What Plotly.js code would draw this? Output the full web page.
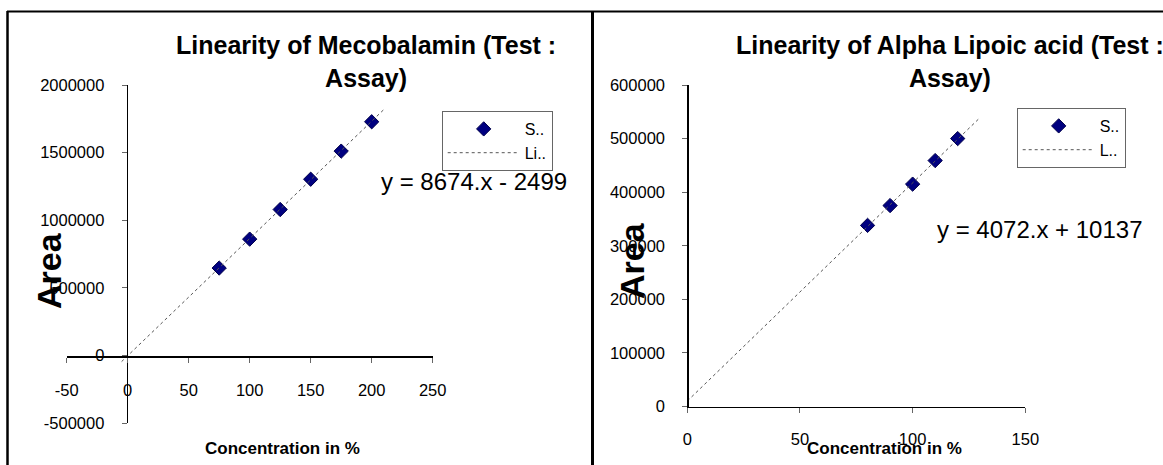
<!DOCTYPE html>
<html><head><meta charset="utf-8">
<script src="https://cdn.plot.ly/plotly-3.0.1.min.js"></script>
<style>html,body{margin:0;padding:0;background:#fff;} #chart{width:1163px;height:465px;}</style>
</head><body><div id="chart"></div>
<script>
// ---------- Mecobalamin (left chart) ----------
const mecoTitle = 'Linearity of Mecobalamin (Test :<br>Assay)';
const mecoConc = [75, 100, 125, 150, 175, 200];
const mecoArea = [646000, 860000, 1079000, 1303000, 1511000, 1728000];
const mecoTrendConc = [-5, 210];
const mecoTrendArea = [-45900, 1819000];
const mecoEquation = 'y = 8674.x - 2499';
const mecoXTickVals = [-50, 0, 50, 100, 150, 200, 250];
const mecoXTickText = ['-50', '0', '50', '100', '150', '200', '250'];
const mecoYTickVals = [-500000, 0, 500000, 1000000, 1500000, 2000000];
const mecoYTickText = ['-500000', '0', '500000', '1000000', '1500000', '2000000'];
const mecoLegendNames = ['S..', 'Li..'];

// ---------- Alpha Lipoic acid (right chart) ----------
const alaTitle = 'Linearity of Alpha Lipoic acid (Test :<br>Assay)';
const alaConc = [80, 90, 100, 110, 120];
const alaArea = [338000, 375000, 415000, 459000, 500000];
const alaTrendConc = [0, 130];
const alaTrendArea = [10137, 539500];
const alaEquation = 'y = 4072.x + 10137';
const alaXTickVals = [0, 50, 100, 150];
const alaXTickText = ['0', '50', '100', '150'];
const alaYTickVals = [0, 100000, 200000, 300000, 400000, 500000, 600000];
const alaYTickText = ['0', '100000', '200000', '300000', '400000', '500000', '600000'];
const alaLegendNames = ['S..', 'L..'];

const xTitle = 'Concentration in %';
const yTitle = 'Area';

// ---------- layout helpers (pixel -> paper) ----------
const W = 1163, H = 465;
const px = v => v / W;
const py = v => 1 - v / H;
const FONT = 'Arial, "Liberation Sans", sans-serif';
const NAVY = '#000080';

const markerStyle = {symbol: 'diamond', size: 11, color: NAVY, line: {color: '#00004a', width: 1}};
const trendStyle = {color: '#555', width: 1, dash: 'dot'};

const traces = [
  {x: mecoConc, y: mecoArea, type: 'scatter', mode: 'markers', name: mecoLegendNames[0],
   xaxis: 'x', yaxis: 'y', legend: 'legend', marker: markerStyle, hoverinfo: 'x+y'},
  {x: mecoTrendConc, y: mecoTrendArea, type: 'scatter', mode: 'lines', name: mecoLegendNames[1],
   xaxis: 'x', yaxis: 'y', legend: 'legend', line: trendStyle, hoverinfo: 'skip'},
  {x: alaConc, y: alaArea, type: 'scatter', mode: 'markers', name: alaLegendNames[0],
   xaxis: 'x2', yaxis: 'y2', legend: 'legend2', marker: markerStyle, hoverinfo: 'x+y'},
  {x: alaTrendConc, y: alaTrendArea, type: 'scatter', mode: 'lines', name: alaLegendNames[1],
   xaxis: 'x2', yaxis: 'y2', legend: 'legend2', line: trendStyle, hoverinfo: 'skip'}
];

function axisBase(extra) {
  return Object.assign({
    showgrid: false, zeroline: false, showline: true, linecolor: '#000', linewidth: 1.5,
    ticks: 'outside', ticklen: 5, tickwidth: 1, tickcolor: '#666',
    tickfont: {size: 16.5, color: '#000', family: FONT},
    tickmode: 'array', autorange: false, fixedrange: true, anchor: 'free'
  }, extra);
}

const ann = (text, x, y, size, bold, extra) => Object.assign({
  text: text, xref: 'paper', yref: 'paper', x: px(x), y: py(y),
  xanchor: 'center', yanchor: 'middle', showarrow: false,
  font: {family: FONT, size: size, color: '#000', weight: bold ? 'bold' : 'normal'}
}, extra || {});

const legendBase = {
  xanchor: 'left', yanchor: 'top', bgcolor: '#fff', bordercolor: '#666', borderwidth: 1,
  font: {family: FONT, size: 16, color: '#000'}, itemwidth: 72, tracegroupgap: 0,
  itemclick: false, itemdoubleclick: false
};

const layout = {
  width: W, height: H,
  margin: {l: 0, r: 0, t: 0, b: 0, pad: 0},
  paper_bgcolor: '#fff', plot_bgcolor: 'rgba(0,0,0,0)',
  font: {family: FONT, color: '#000', size: 16},
  showlegend: true,
  xaxis: axisBase({domain: [px(66.7), px(432.7)], range: [-50, 250],
    tickvals: mecoXTickVals, ticktext: mecoXTickText, position: py(356), ticklabelstandoff: 14}),
  yaxis: axisBase({domain: [py(423), py(85)], range: [-500000, 2000000],
    tickvals: mecoYTickVals, ticktext: mecoYTickText, position: px(126.7), ticklabelstandoff: 14}),
  xaxis2: axisBase({domain: [px(687.3), px(1025.3)], range: [0, 150],
    tickvals: alaXTickVals, ticktext: alaXTickText, position: py(406.5), ticklabelstandoff: 12}),
  yaxis2: axisBase({domain: [py(406.5), py(85)], range: [0, 600000],
    tickvals: alaYTickVals, ticktext: alaYTickText, position: px(687.3), ticklabelstandoff: 14}),
  legend: Object.assign({x: px(441.7), y: py(111)}, legendBase),
  legend2: Object.assign({x: px(1016.7), y: py(108)}, legendBase),
  shapes: [
    {type: 'line', xref: 'paper', yref: 'paper', x0: px(7), x1: 1, y0: py(11.5), y1: py(11.5), line: {color: '#000', width: 2}},
    {type: 'line', xref: 'paper', yref: 'paper', x0: px(7.5), x1: px(7.5), y0: py(11), y1: 0, line: {color: '#000', width: 2.5}},
    {type: 'line', xref: 'paper', yref: 'paper', x0: px(592.5), x1: px(592.5), y0: py(11), y1: 0, line: {color: '#000', width: 3}}
  ],
  annotations: [
    ann(mecoTitle, 366, 61, 25, true),
    ann(alaTitle, 950, 61, 25, true),
    ann(mecoEquation, 474, 181.7, 24, false),
    ann(alaEquation, 1040, 229.3, 24, false),
    ann(xTitle, 282.5, 448, 17, true),
    ann(xTitle, 884, 448.3, 17, true),
    ann(yTitle, 48.3, 270.7, 34, true, {textangle: -90}),
    ann(yTitle, 632, 261, 34, true, {textangle: -90})
  ]
};

Plotly.newPlot('chart', traces, layout, {displayModeBar: false, staticPlot: true});
</script>
</body></html>
